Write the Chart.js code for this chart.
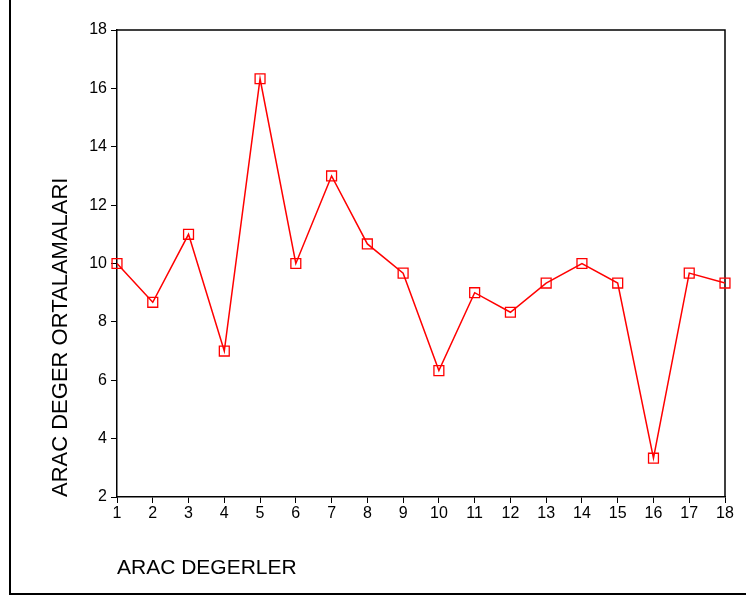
<html>
<head>
<script src="https://cdn.jsdelivr.net/npm/chart.js"></script>
<style>
  body { margin: 0; background: #fff; }
  #wrap { position: relative; width: 746px; height: 598px; }
  #frame {
    position: absolute; left: 9px; top: 0; width: 737px; height: 593px;
    border-left: 2px solid #000; border-bottom: 2px solid #000;
  }
  canvas { position: absolute; left: 0; top: 0; }
</style>
</head>
<body>
<div id="wrap">
  <div id="frame"></div>
  <canvas id="lineChart" width="746" height="598"></canvas>
</div>

<script>
// values
const categories = [1, 2, 3, 4, 5, 6, 7, 8, 9, 10, 11, 12, 13, 14, 15, 16, 17, 18];
const means = [10, 8.67, 11, 7, 16.33, 10, 13, 10.67, 9.67, 6.33, 9, 8.33, 9.33, 10, 9.33, 3.33, 9.67, 9.33];
const yTicks = [2, 4, 6, 8, 10, 12, 14, 16, 18];

const xTitle = 'ARAC DEGERLER';
const yTitle = 'ARAC DEGER ORTALAMALARI';

// top and right edge of the plot box
const boxPlugin = {
    id: 'box',
    beforeDatasetsDraw(chart) {
        const a = chart.chartArea;
        const ctx = chart.ctx;
        ctx.save();
        ctx.strokeStyle = '#000';
        ctx.lineWidth = 1.5;
        ctx.beginPath();
        ctx.moveTo(a.left, a.top);
        ctx.lineTo(a.right, a.top);
        ctx.lineTo(a.right, a.bottom);
        ctx.stroke();
        ctx.restore();
    }
};

var ctx = document.getElementById('lineChart').getContext('2d');

var chart = new Chart(ctx, {
    type: 'line',
    data: {
        datasets: [{
            label: 'ARAC DEGER ORTALAMALARI',
            data: categories.map((c, i) => ({x: c, y: means[i]})),
            borderColor: '#ff0000',
            borderWidth: 1.5,
            pointStyle: 'rect',
            pointRadius: 7,
            pointBorderWidth: 1.3,
            pointBorderColor: '#ff0000',
            pointBackgroundColor: 'rgba(0,0,0,0)',
            tension: 0,
            clip: false
        }]
    },
    options: {
        responsive: false,
        animation: false,
        layout: { padding: { top: 30, right: 21, left: 0, bottom: 0 } },
        plugins: {
            legend: { display: false },
            tooltip: { enabled: false }
        },
        scales: {
            x: {
                type: 'linear',
                min: 1,
                max: 18,
                afterFit: function(scale) { scale.height = 101; },
                afterBuildTicks: function(scale) {
                    scale.ticks = categories.map(v => ({value: v}));
                },
                ticks: {
                    color: '#000',
                    font: { family: 'Liberation Sans', size: 16 },
                    padding: 1,
                    maxRotation: 0,
                    autoSkip: false
                },
                grid: { drawOnChartArea: false, color: '#000', tickLength: 6 },
                border: { color: '#000', width: 1.5 },
                title: {
                    display: true,
                    text: xTitle,
                    align: 'start',
                    color: '#000',
                    font: { family: 'Liberation Sans', size: 21 },
                    padding: { top: 0, bottom: 17 }
                }
            },
            y: {
                min: 2,
                max: 18,
                afterFit: function(scale) { scale.width = 117; },
                afterBuildTicks: function(scale) {
                    scale.ticks = yTicks.map(v => ({value: v}));
                },
                ticks: {
                    color: '#000',
                    font: { family: 'Liberation Sans', size: 16 },
                    padding: 4
                },
                grid: { drawOnChartArea: false, color: '#000', tickLength: 6 },
                border: { color: '#000', width: 1.5 },
                title: {
                    display: true,
                    text: yTitle,
                    align: 'start',
                    color: '#000',
                    font: { family: 'Liberation Sans', size: 22 },
                    padding: { top: 48, bottom: 0 }
                }
            }
        }
    },
    plugins: [boxPlugin]
});
</script>
</body>
</html>
